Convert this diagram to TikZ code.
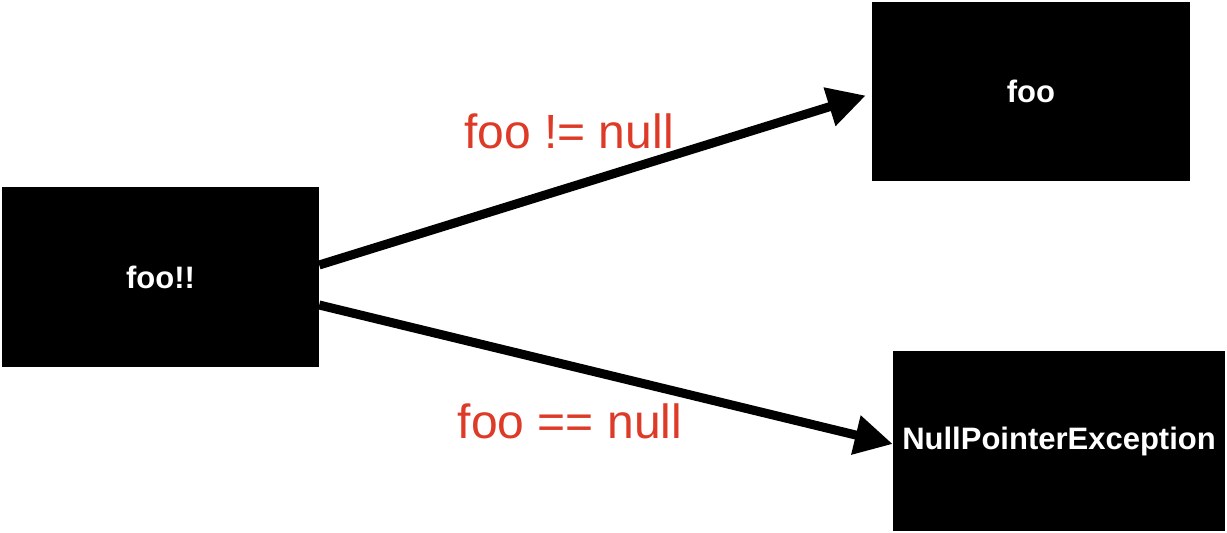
\documentclass[tikz,border=0pt]{standalone}
\usepackage{fontspec}
\setmainfont{Liberation Sans}
\usetikzlibrary{arrows.meta}
\definecolor{lblred}{HTML}{DD3A28}
\tikzset{
  blackbox/.style={fill=black, draw=none, inner sep=0pt, text=white,
    font=\fontsize{31}{36}\selectfont\bfseries},
  flowarrow/.style={line width=9pt, -{Triangle[length=38pt,width=38pt]}},
  condlabel/.style={text=lblred, font=\fontsize{48}{56}\selectfont, anchor=base, inner sep=0pt}
}
\begin{document}
\begin{tikzpicture}[x=1pt,y=-1pt]
\useasboundingbox (0,0) rectangle (1227,533);
\node[blackbox, minimum width=317pt, minimum height=180pt] (src) at (160.5,277) {foo!!};
\node[blackbox, minimum width=318pt, minimum height=179pt] (foo) at (1031,91.5) {foo};
\node[blackbox, minimum width=332pt, minimum height=180pt] (npe) at (1059,441) {NullPointerException};
\draw[flowarrow] ([yshift=12pt]src.east) -- ([xshift=-6pt,yshift=-4pt]foo.west);
\draw[flowarrow] ([yshift=-28pt]src.east) -- ([yshift=-3pt]npe.west);
\node[condlabel] (lneq) at (569,148) {foo != null};
\node[condlabel] (leq) at (570,438) {foo == null};
\end{tikzpicture}
\end{document}
